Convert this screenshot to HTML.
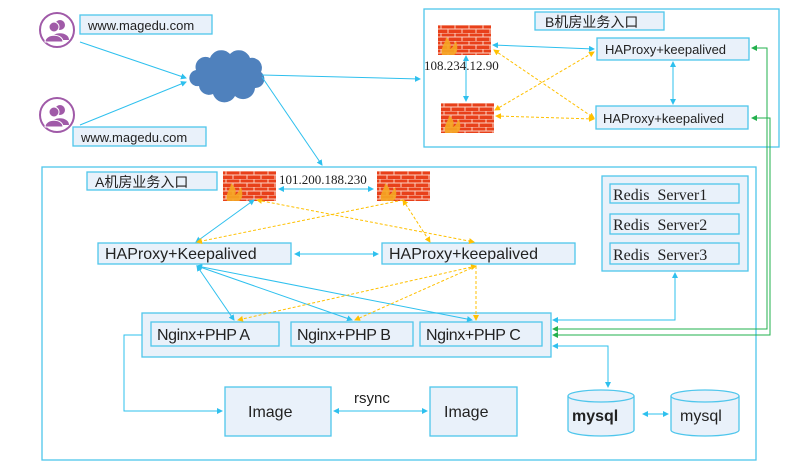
<!DOCTYPE html>
<html><head><meta charset="utf-8"><style>
html,body{margin:0;padding:0;background:#fff;}
svg{display:block}
text{font-family:"Liberation Sans","Noto Sans CJK SC",sans-serif;fill:#222}
.serif{font-family:"Liberation Serif","Noto Serif CJK SC",serif}
</style></head><body>
<svg width="788" height="467" viewBox="0 0 788 467" xmlns="http://www.w3.org/2000/svg">
<defs>
<marker id="ab" markerWidth="6" markerHeight="6" refX="5" refY="3" orient="auto-start-reverse"><path d="M0,0 L6,3 L0,6 z" fill="#2ec0ee"/></marker>
<marker id="ao" markerWidth="6" markerHeight="6" refX="5" refY="3" orient="auto-start-reverse"><path d="M0,0 L6,3 L0,6 z" fill="#ffc000"/></marker>
<marker id="ag" markerWidth="6" markerHeight="6" refX="5" refY="3" orient="auto-start-reverse"><path d="M0,0 L6,3 L0,6 z" fill="#22b04c"/></marker>
<pattern id="brick" width="14" height="8" patternUnits="userSpaceOnUse">
<rect width="14" height="8" fill="#e8401a"/>
<path d="M0,0H14M0,4H14M3,0V4M10,4V8" stroke="#fbd0c0" stroke-width="1"/>
</pattern>
<g id="fw"><rect width="53" height="30" fill="url(#brick)"/><path d="M4,30 C2,22 8,18 8,12 C12,16 14,20 12,24 C16,22 16,18 18,16 C20,22 20,28 16,30z" fill="#f5a623" opacity=".9"/></g>
<g id="person"><circle r="17" fill="#fff" stroke="#a05aa8" stroke-width="2"/><circle cx="3" cy="-5" r="5" fill="#a05aa8"/><path d="M-6,10 C-6,1 12,1 12,10z" fill="#a05aa8"/><circle cx="-3" cy="-3" r="5" fill="#a05aa8" stroke="#fff"/><path d="M-12,12 C-12,3 6,3 6,12z" fill="#a05aa8" stroke="#fff"/></g>
</defs>
<g fill="#e9f1fa" stroke="#4fc6ec" stroke-width="1.3">
<rect x="80" y="15" width="132" height="19"/>
<rect x="73" y="127" width="133" height="19"/>
<rect x="424" y="9" width="355" height="138" fill="none"/>
<rect x="535" y="12" width="129" height="18"/>
<rect x="597" y="38" width="152" height="22"/>
<rect x="596" y="106" width="152" height="23"/>
<rect x="42" y="167" width="714" height="293" fill="none"/>
<rect x="87" y="172" width="130" height="18"/>
<rect x="98" y="243" width="193" height="21"/>
<rect x="382" y="243" width="193" height="21"/>
<rect x="602" y="176" width="146" height="95"/>
<rect x="610" y="184" width="129" height="19"/>
<rect x="610" y="214" width="129" height="20"/>
<rect x="610" y="243" width="129" height="21"/>
<rect x="142" y="313" width="409" height="44"/>
<rect x="151" y="322" width="128" height="24"/>
<rect x="291" y="322" width="122" height="24"/>
<rect x="420" y="322" width="122" height="24"/>
<rect x="225" y="387" width="106" height="49"/>
<rect x="430" y="387" width="87" height="49"/>
</g>
<g fill="#e9f1fa" stroke="#4fc6ec" stroke-width="1.3">
<path d="M568,396 V430 A33,6 0 0 0 634,430 V396"/><ellipse cx="601" cy="396" rx="33" ry="6"/>
<path d="M671,396 V430 A34,6 0 0 0 739,430 V396"/><ellipse cx="705" cy="396" rx="34" ry="6"/>
</g>
<use href="#person" x="57" y="30"/><use href="#person" x="57" y="115"/>
<path d="M196,70 a10,10 0 0 1 14,-12 a12,12 0 0 1 20,-4 a12,12 0 0 1 20,4 a10,10 0 0 1 11,14 a9,9 0 0 1 -6,16 a12,12 0 0 1 -20,8 a12,12 0 0 1 -22,-2 a10,10 0 0 1 -14,-8 a8,8 0 0 1 -3,-16z" fill="#4f81bd"/>
<use href="#fw" x="438" y="25"/><use href="#fw" x="441" y="103"/>
<use href="#fw" x="223" y="171"/><use href="#fw" x="377" y="171"/>
<g stroke="#2ec0ee" stroke-width="1" fill="none">
<path d="M80,42 L186,78" marker-end="url(#ab)"/>
<path d="M80,125 L186,82" marker-end="url(#ab)"/>
<path d="M262,75 L420,79" marker-end="url(#ab)"/>
<path d="M262,77 L322,165" marker-end="url(#ab)"/>
<path d="M493,45 L594,49" marker-start="url(#ab)" marker-end="url(#ab)"/>
<path d="M466,56 L466,101" marker-start="url(#ab)" marker-end="url(#ab)"/>
<path d="M673,62 L673,104" marker-start="url(#ab)" marker-end="url(#ab)"/>
<path d="M279,189 L373,189" marker-start="url(#ab)" marker-end="url(#ab)"/>
<path d="M254,200 L196,242" marker-start="url(#ab)" marker-end="url(#ab)"/>
<path d="M295,254 L378,254" marker-start="url(#ab)" marker-end="url(#ab)"/>
<path d="M197,266 L234,320" marker-start="url(#ab)" marker-end="url(#ab)"/>
<path d="M197,266 L352,320" marker-start="url(#ab)" marker-end="url(#ab)"/>
<path d="M197,266 L472,320" marker-start="url(#ab)" marker-end="url(#ab)"/>
<path d="M675,273 V320 H553" marker-start="url(#ab)" marker-end="url(#ab)"/>
<path d="M553,346 H608 V387" marker-start="url(#ab)" marker-end="url(#ab)"/>
<path d="M142,335 H124 V411 H222" marker-end="url(#ab)"/>
<path d="M334,411 H427" marker-start="url(#ab)" marker-end="url(#ab)"/>
<path d="M643,414 H668" marker-start="url(#ab)" marker-end="url(#ab)"/>
</g>
<g stroke="#ffc000" stroke-width="1" fill="none" stroke-dasharray="3,2">
<path d="M494,50 L594,118" marker-start="url(#ao)" marker-end="url(#ao)"/>
<path d="M495,110 L594,52" marker-start="url(#ao)" marker-end="url(#ao)"/>
<path d="M496,116 L594,119" marker-start="url(#ao)" marker-end="url(#ao)"/>
<path d="M403,200 L197,242" marker-end="url(#ao)"/>
<path d="M257,200 L474,242" marker-start="url(#ao)" marker-end="url(#ao)"/>
<path d="M403,200 L430,242" marker-start="url(#ao)" marker-end="url(#ao)"/>
<path d="M476,266 L238,320" marker-start="url(#ao)" marker-end="url(#ao)"/>
<path d="M476,266 L355,320" marker-end="url(#ao)"/>
<path d="M476,266 L476,320" marker-end="url(#ao)"/>
</g>
<g stroke="#22b04c" stroke-width="1" fill="none">
<path d="M752,48 H767 V329 H553" marker-start="url(#ag)" marker-end="url(#ag)"/>
<path d="M752,118 H770 V335 H553" marker-start="url(#ag)" marker-end="url(#ag)"/>
</g>
<g font-size="13">
<text x="88" y="30">www.magedu.com</text>
<text x="81" y="142">www.magedu.com</text>
<text x="545" y="27" font-size="14">B机房业务入口</text>
<text x="605" y="54">HAProxy+keepalived</text>
<text x="603" y="123">HAProxy+keepalived</text>
<text x="95" y="187" font-size="14">A机房业务入口</text>
<text class="serif" x="424" y="70" font-size="13">108.234.12.90</text>
<text class="serif" x="279" y="184" font-size="13">101.200.188.230</text>
<text x="105" y="259" font-size="16">HAProxy+Keepalived</text>
<text x="389" y="259" font-size="16">HAProxy+keepalived</text>
<text class="serif" x="613" y="200" font-size="16">Redis&#160; Server1</text>
<text class="serif" x="613" y="230" font-size="16">Redis&#160; Server2</text>
<text class="serif" x="613" y="260" font-size="16">Redis&#160; Server3</text>
<text x="157" y="340" font-size="16" letter-spacing="-0.4">Nginx+PHP A</text>
<text x="297" y="340" font-size="16" letter-spacing="-0.4">Nginx+PHP B</text>
<text x="426" y="340" font-size="16" letter-spacing="-0.4">Nginx+PHP C</text>
<text x="248" y="417" font-size="16">Image</text>
<text x="444" y="417" font-size="16">Image</text>
<text x="354" y="403" font-size="15">rsync</text>
<text x="572" y="421" font-size="16" font-weight="bold">mysql</text>
<text x="680" y="421" font-size="16">mysql</text>
</g>
</svg>
</body></html>
